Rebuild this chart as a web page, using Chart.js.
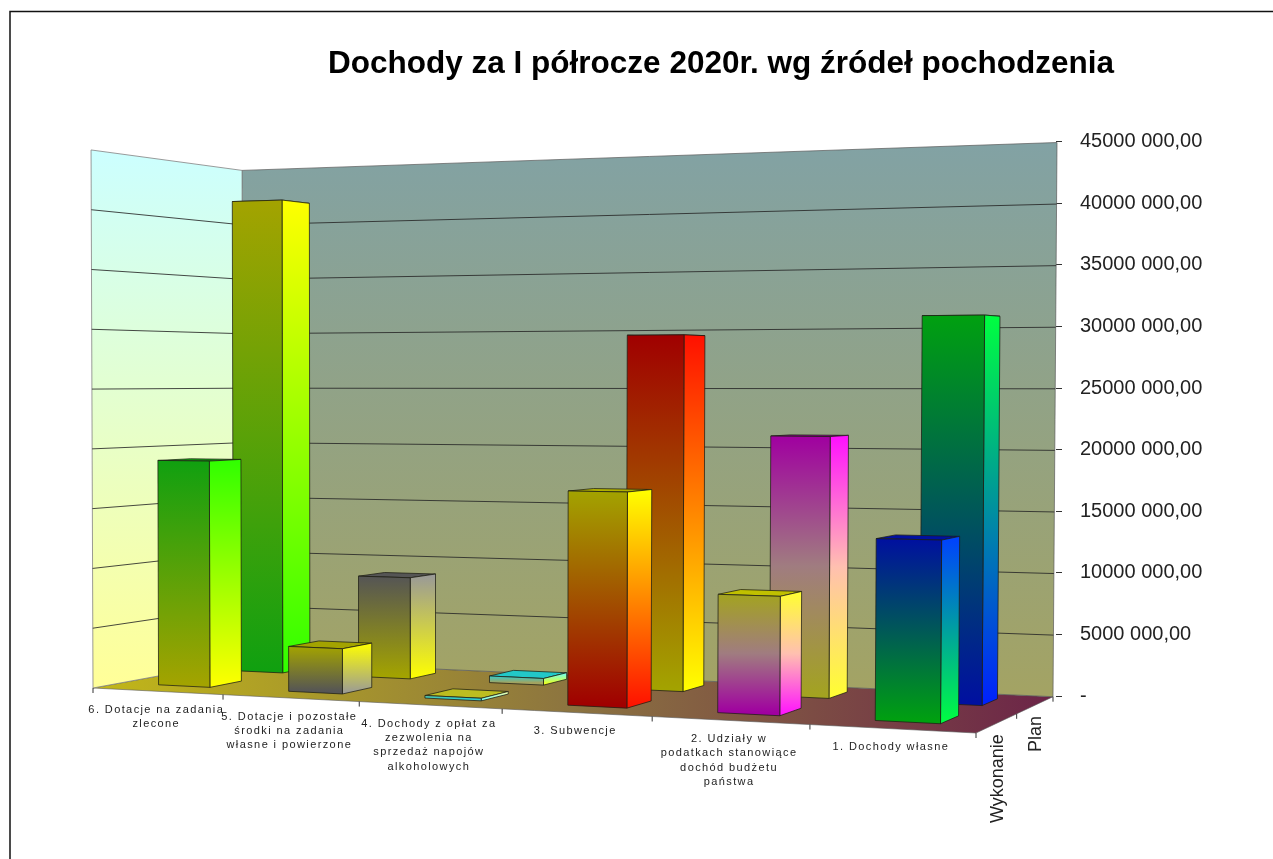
<!DOCTYPE html>
<html>
<head>
<meta charset="utf-8">
<style>html,body{margin:0;padding:0;background:#fff}canvas{display:block}</style>
<script src="https://cdn.jsdelivr.net/npm/chart.js@4"></script>
</head>
<body>
<canvas id="c" width="1273" height="859"></canvas>
<script>
const categories = [
  ["6. Dotacje na zadania", "zlecone"],
  ["5. Dotacje i pozostałe", "środki na zadania", "własne i powierzone"],
  ["4. Dochody z opłat za", "zezwolenia na", "sprzedaż napojów", "alkoholowych"],
  ["3. Subwencje"],
  ["2. Udziały w", "podatkach stanowiące", "dochód budżetu", "państwa"],
  ["1. Dochody własne"]
];
const wykonanie = [19000000, 3750000, 250000, 17000000, 9200000, 13800000];
const plan = [41600000, 8750000, 600000, 29500000, 21200000, 30900000];
const yMax = 45000000;
const yStep = 5000000;
const titleText = "Dochody za I półrocze 2020r. wg źródeł pochodzenia";

const olive = "#A3A300", yel = "#FFFF00";
const fade2F = ["#A3A320", "#A07C80", "#A000A0"], fade2S = ["#FFFF30", "#FFC0B0", "#FF10FF"];
const facesW = [
  {f:["#10A010", olive], s:["#30FF00", yel]},
  {f:[olive, "#555555"], s:[yel, "#999999"]},
  {f:["#70C090", "#33CCCC"], s:["#FFFFA0", "#66FFFF"], t:"#BDBD20"},
  {f:[olive, "#A00000"], s:[yel, "#FF1000"], t:"#B0B000"},
  {f:fade2F, s:fade2S, t:"#C0C000"},
  {f:["#0010A0", "#00A010"], s:["#0040FF", "#00FF40"]}
];
const facesP = [
  {f:[olive, "#10A010"], s:[yel, "#30FF00"]},
  {f:["#555555", olive], s:["#999999", yel]},
  {f:["#33CCCC", "#A3A360"], s:["#66FFFF", yel], t:"#22C8C8"},
  {f:["#A00000", olive], s:["#FF1000", yel]},
  {f:["#A000A0", "#A07C80", "#A3A320"], s:["#FF10FF", "#FFC0B0", "#FFFF30"]},
  {f:["#00A010", "#0010A0"], s:["#00FF40", "#0020FF"]}
];
// depth band of each series on the floor (0 = front edge, 1 = back wall)
const depthBands = [[0.17, 0.38], [0.67, 0.87]];
const seriesFaces = [facesW, facesP];

// Floor quad in screen space -> homography
const Q = {x0:93,y0:688,x1:976,y1:733,x2:1053,y2:696.7,x3:243,y3:660.4};
const H = (function(){
  const sx=Q.x0-Q.x1+Q.x2-Q.x3, sy=Q.y0-Q.y1+Q.y2-Q.y3;
  const dx1=Q.x1-Q.x2, dx2=Q.x3-Q.x2, dy1=Q.y1-Q.y2, dy2=Q.y3-Q.y2;
  const den=dx1*dy2-dx2*dy1;
  const g=(sx*dy2-dx2*sy)/den, h=(dx1*sy-sx*dy1)/den;
  return {g,h,a:Q.x1-Q.x0+g*Q.x1,b:Q.x3-Q.x0+h*Q.x3,c:Q.x0,d:Q.y1-Q.y0+g*Q.y1,e:Q.y3-Q.y0+h*Q.y3,f:Q.y0};
})();
function pt(u,v,px){
  const w=H.g*u+H.h*v+1;
  let x=(H.a*u+H.b*v+H.c)/w, y=(H.d*u+H.e*v+H.f)/w;
  const hh=(px||0)/(1.03-0.131*u+0.101*v);
  return {x:x+(x-413)*hh*1.13e-5, y:y-hh};
}
function poly(ctx,pts){
  ctx.beginPath();
  pts.forEach((p,i)=> i?ctx.lineTo(p.x,p.y):ctx.moveTo(p.x,p.y));
  ctx.closePath();
}
function vgrad(ctx,y0,y1,stops){
  const g=ctx.createLinearGradient(0,y0,0,y1);
  stops.forEach((c,i)=>g.addColorStop(i/(stops.length-1),c));
  return g;
}
function face(ctx,pts,fill,stroke){
  poly(ctx,pts);
  ctx.fillStyle=fill; ctx.fill();
  ctx.lineWidth=1; ctx.strokeStyle=stroke; ctx.stroke();
}

const scene = {
  id:"scene",
  afterLayout(chart){
    // tick labels are clipped to the scale box: let it reach the canvas edge
    const y=chart.scales.y;
    y.right=chart.width; y.width=y.right-y.left;
  },
  beforeDraw(chart){
    const ctx=chart.ctx;
    ctx.save();
    ctx.fillStyle="#fff"; ctx.fillRect(0,0,chart.width,chart.height);
    ctx.strokeStyle="#111"; ctx.lineWidth=1.5;
    ctx.beginPath(); ctx.moveTo(10,chart.height); ctx.lineTo(10,11.5); ctx.lineTo(chart.width,11.5); ctx.stroke();
    ctx.restore();
  },
  beforeDatasetsDraw(chart){
    const ctx=chart.ctx, y=chart.scales.y;
    const top=y.getPixelForValue(0)-y.getPixelForValue(yMax);
    ctx.save();
    // floor
    const fl=[pt(0,0),pt(1,0),pt(1,1),pt(0,1)];
    const fg=ctx.createLinearGradient(93,0,1053,0);
    fg.addColorStop(0,"#C2B818"); fg.addColorStop(0.5,"#8C7440"); fg.addColorStop(1,"#6C2448");
    face(ctx,fl,fg,"rgba(90,90,90,.6)");
    // back wall
    const bk=[pt(0,1),pt(1,1),pt(1,1,top),pt(0,1,top)];
    face(ctx,bk,vgrad(ctx,145,690,["#82A2A4","#A3A364"]),"rgba(90,90,90,.7)");
    // side wall
    const sd=[pt(0,0),pt(0,1),pt(0,1,top),pt(0,0,top)];
    face(ctx,sd,vgrad(ctx,150,680,["#CCFFFF","#FFFF99"]),"rgba(130,130,130,.8)");
    // gridlines
    ctx.strokeStyle="rgba(40,40,40,.85)"; ctx.lineWidth=1;
    y.ticks.forEach(t=>{
      if(t.value===0||t.value===yMax) return;
      const p=y.getPixelForValue(0)-y.getPixelForValue(t.value);
      const a=pt(0,0,p),b=pt(0,1,p),c=pt(1,1,p);
      ctx.beginPath(); ctx.moveTo(a.x,a.y); ctx.lineTo(b.x,b.y); ctx.lineTo(c.x,c.y); ctx.stroke();
    });
    ctx.restore();
  },
  beforeDatasetDraw(chart,args){
    const ctx=chart.ctx, area=chart.chartArea, i=args.index;
    const [v0,v1]=depthBands[i];
    const edge="rgba(30,30,20,.75)";
    ctx.save();
    args.meta.data.forEach((el,k)=>{
      const u0=(el.x-el.width/2-area.left)/area.width, u1=(el.x+el.width/2-area.left)/area.width;
      const ph=el.base-el.y, c=seriesFaces[i][k];
      const fl=pt(u0,v0),fr=pt(u1,v0),br=pt(u1,v1),bl=pt(u0,v1);
      const tfl=pt(u0,v0,ph),tfr=pt(u1,v0,ph),tbr=pt(u1,v1,ph),tbl=pt(u0,v1,ph);
      face(ctx,[tfl,tfr,tbr,tbl],c.t||c.f[0],edge);
      face(ctx,[tfr,fr,br,tbr],vgrad(ctx,Math.min(tfr.y,tbr.y),Math.max(fr.y,br.y),c.s),edge);
      face(ctx,[tfl,tfr,fr,fl],vgrad(ctx,tfl.y,fl.y,c.f),edge);
    });
    ctx.restore();
    return false;
  },
  afterDraw(chart){
    const ctx=chart.ctx, n=categories.length;
    ctx.save();
    ctx.strokeStyle="#333"; ctx.lineWidth=1;
    // category ticks along the front edge
    for(let k=0;k<=n;k++){
      const p=pt(k/n,0);
      ctx.beginPath(); ctx.moveTo(p.x,p.y); ctx.lineTo(p.x,p.y+5); ctx.stroke();
    }
    // depth ticks
    [0.5,1].forEach(v=>{
      const p=pt(1,v);
      ctx.beginPath(); ctx.moveTo(p.x,p.y); ctx.lineTo(p.x,p.y+5); ctx.stroke();
    });
    // category labels
    ctx.fillStyle="#222"; ctx.font="11px 'Liberation Sans'"; ctx.textAlign="center"; ctx.textBaseline="alphabetic";
    ctx.letterSpacing="1.4px";
    chart.scales.x.getLabels().forEach((lines,k)=>{
      const p=pt((k+0.5)/n,0);
      lines.forEach((s,j)=>ctx.fillText(s,p.x-1,p.y+21.5+j*14.3));
    });
    ctx.letterSpacing="0px";
    // depth labels
    ctx.font="18px 'Liberation Sans'"; ctx.textAlign="right"; ctx.textBaseline="middle";
    chart.data.datasets.forEach((ds,i)=>{
      const p=pt(1,i===0?0.25:0.75);
      ctx.save(); ctx.translate(p.x+1,p.y+11); ctx.rotate(-Math.PI/2);
      ctx.fillText(ds.label,0,0); ctx.restore();
    });
    ctx.restore();
  }
};

new Chart(document.getElementById("c"),{
  type:"bar",
  data:{labels:categories,datasets:[
    {label:"Wykonanie",data:wykonanie,backgroundColor:"#A3A300",grouped:false},
    {label:"Plan",data:plan,backgroundColor:"#A3A300",grouped:false}
  ]},
  plugins:[scene],
  options:{
    responsive:false,animation:false,
    barPercentage:0.4,categoryPercentage:1,
    layout:{padding:{left:93,right:159,top:0,bottom:163}},
    plugins:{
      legend:{display:false},tooltip:{enabled:false},
      title:{display:true,text:titleText,align:"end",color:"#000",
        font:{family:"'Liberation Sans'",size:31.5,weight:"bold",lineHeight:1.2},
        padding:{top:45,bottom:59}}
    },
    scales:{
      x:{offset:true,grid:{display:false},border:{display:false},ticks:{display:false},
        afterFit(s){s.height=0;}},
      y:{position:"right",min:0,max:yMax,
        grid:{drawOnChartArea:false,drawTicks:true,tickLength:6,tickColor:"#333"},
        border:{display:false},
        ticks:{stepSize:yStep,padding:18,color:"#222",autoSkip:false,
          font:{family:"'Liberation Sans'",size:20},
          callback:v=> v===0 ? "-" : (v/1000)+" 000,00"},
        afterFit(s){s.width=58;}}
    }
  }
});
</script>
</body>
</html>
